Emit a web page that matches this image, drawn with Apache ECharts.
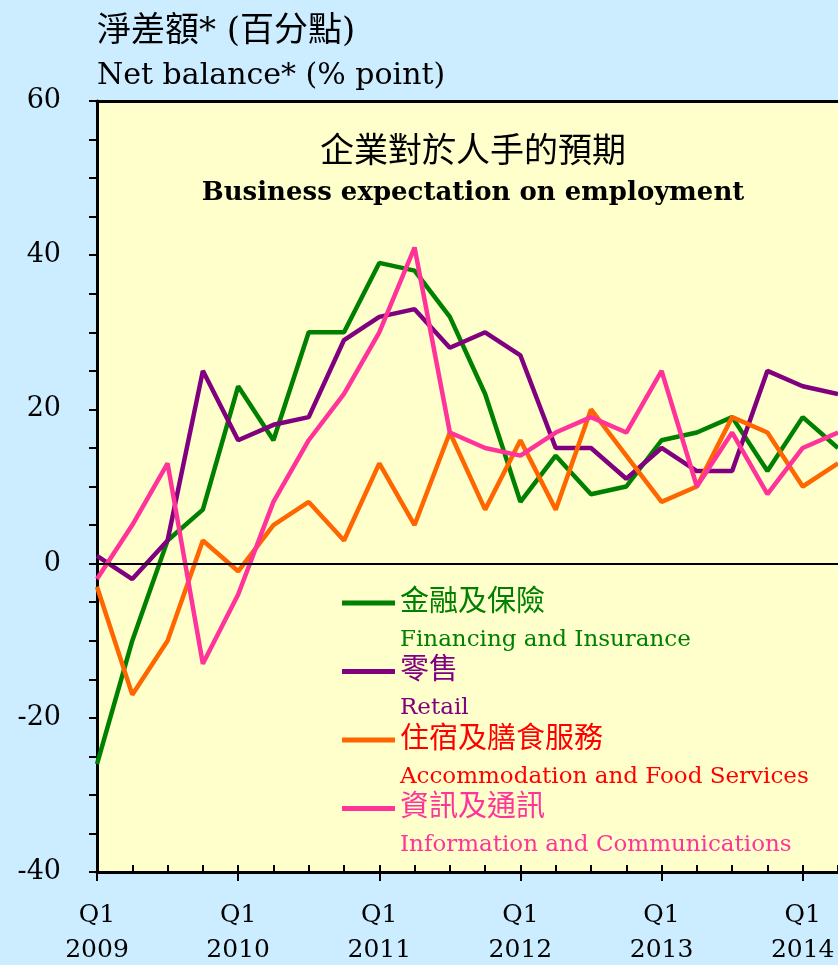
<!DOCTYPE html>
<html lang="zh-HK">
<head>
    <meta charset="UTF-8">
    <title>企業對於人手的預期</title>
    <script src="https://cdn.jsdelivr.net/npm/echarts@6.0.0/dist/echarts.min.js"></script>
    <style>
        html, body { margin: 0; padding: 0; background: #CCECFF; }
        #chart { width: 838px; height: 965px; }
    </style>
</head>
<body>
    <div id="chart"></div>
    <script>
        // 季度 (Q1 2009 - Q2 2014)
        var quarters = [
            'Q1\n2009', 'Q2\n2009', 'Q3\n2009', 'Q4\n2009',
            'Q1\n2010', 'Q2\n2010', 'Q3\n2010', 'Q4\n2010',
            'Q1\n2011', 'Q2\n2011', 'Q3\n2011', 'Q4\n2011',
            'Q1\n2012', 'Q2\n2012', 'Q3\n2012', 'Q4\n2012',
            'Q1\n2013', 'Q2\n2013', 'Q3\n2013', 'Q4\n2013',
            'Q1\n2014', 'Q2\n2014'
        ];

        // 淨差額 (百分點)
        var financeVals = [-26, -10, 3, 7, 23, 16, 30, 30, 39, 38, 32, 22, 8, 14, 9, 10, 16, 17, 19, 12, 19, 15];
        var retailVals  = [1, -2, 3, 25, 16, 18, 19, 29, 32, 33, 28, 30, 27, 15, 15, 11, 15, 12, 12, 25, 23, 22];
        var accomVals   = [-3, -17, -10, 3, -1, 5, 8, 3, 13, 5, 17, 7, 16, 7, 20, 14, 8, 10, 19, 17, 10, 13];
        var infoVals    = [-2, 5, 13, -13, -4, 8, 16, 22, 30, 41, 17, 15, 14, 17, 19, 17, 25, 10, 17, 9, 15, 17];

        var seriesNames = ['金融及保險', '零售', '住宿及膳食服務', '資訊及通訊'];
        var seriesNamesEn = ['Financing and Insurance', 'Retail', 'Accommodation and Food Services', 'Information and Communications'];
        var lineColors = ['#008000', '#800080', '#FF6600', '#FF3399'];
        var textColors = ['#008000', '#800080', '#FF0000', '#FF3399'];

        var yTicks = [-40, -20, 0, 20, 40, 60];

        var FONT = "'DejaVu Serif', 'Noto Sans CJK TC', serif";

        var chart = echarts.init(document.getElementById('chart'));

        // 圖例文字: 中文一行, 英文一行 (上面加一空行令圖示對齊中文)
        var legendRich = {};
        for (var i = 0; i < 4; i++) {
            legendRich['sp' + i] = { fontSize: 10, lineHeight: 37 };
            legendRich['cn' + i] = { color: textColors[i], fontFamily: FONT, fontSize: 29, lineHeight: 37 };
            legendRich['en' + i] = { color: textColors[i], fontFamily: FONT, fontSize: 23, lineHeight: 37 };
        }

        var dataSets = [financeVals, retailVals, accomVals, infoVals];
        var series = dataSets.map(function (vals, i) {
            var s = {
                name: seriesNames[i],
                type: 'line',
                data: vals,
                showSymbol: false,
                symbol: 'none',
                lineStyle: { width: 4.5, color: lineColors[i] },
                itemStyle: { color: lineColors[i] },
                silent: true
            };
            if (i === 0) {
                // 零線
                s.markLine = {
                    silent: true,
                    symbol: 'none',
                    label: { show: false },
                    lineStyle: { color: '#000', width: 2, type: 'solid' },
                    data: [{ yAxis: 0 }]
                };
            }
            return s;
        });

        var option = {
            backgroundColor: '#CCECFF',
            animation: false,
            title: [
                {
                    text: '企業對於人手的預期',
                    subtext: 'Business expectation on employment',
                    left: 468,
                    top: 131,
                    textAlign: 'center',
                    itemGap: 10,
                    textStyle: { fontFamily: FONT, fontSize: 34, fontWeight: 'normal', color: '#000' },
                    subtextStyle: { fontFamily: FONT, fontSize: 26, fontWeight: 'bold', color: '#000' }
                },
                {
                    text: '淨差額* (百分點)',
                    subtext: 'Net balance* (% point)',
                    left: 92,
                    top: 10,
                    itemGap: 12,
                    textStyle: { fontFamily: FONT, fontSize: 34, fontWeight: 'normal', color: '#000' },
                    subtextStyle: { fontFamily: FONT, fontSize: 30, color: '#000' }
                }
            ],
            legend: {
                orient: 'vertical',
                left: 342,
                top: 561,
                padding: 0,
                itemWidth: 53,
                itemHeight: 5,
                itemGap: -22,
                icon: 'rect',
                selectedMode: false,
                data: seriesNames,
                formatter: function (name) {
                    var k = seriesNames.indexOf(name);
                    return '{sp' + k + '| }\n{cn' + k + '|' + name + '}\n{en' + k + '|' + seriesNamesEn[k] + '}';
                },
                textStyle: { rich: legendRich }
            },
            grid: {
                left: 97,
                right: 0,
                top: 101,
                bottom: 93,
                outerBoundsMode: 'none',
                show: true,
                backgroundColor: '#FFFFCC',
                borderWidth: 0
            },
            xAxis: [
                {
                    type: 'category',
                    data: quarters,
                    boundaryGap: false,
                    position: 'bottom',
                    axisLine: { onZero: false, lineStyle: { color: '#000', width: 3 } },
                    axisTick: { interval: 0, inside: true, length: 7, lineStyle: { color: '#000', width: 2 } },
                    axisLabel: {
                        interval: 3,
                        margin: 26,
                        color: '#000',
                        fontFamily: FONT,
                        fontSize: 25,
                        lineHeight: 35
                    },
                    splitLine: { show: false }
                },
                {
                    // Q1 長刻度
                    type: 'category',
                    data: quarters,
                    boundaryGap: false,
                    position: 'bottom',
                    axisLine: { show: false, onZero: false },
                    axisTick: { interval: 3, inside: false, length: 9, lineStyle: { color: '#000', width: 2 } },
                    axisLabel: { show: false },
                    splitLine: { show: false }
                },
                {
                    // 頂邊線
                    type: 'category',
                    data: quarters,
                    boundaryGap: false,
                    position: 'top',
                    axisLine: { onZero: false, lineStyle: { color: '#000', width: 3 } },
                    axisTick: { show: false },
                    axisLabel: { show: false },
                    splitLine: { show: false }
                }
            ],
            yAxis: {
                type: 'value',
                min: yTicks[0],
                max: yTicks[yTicks.length - 1],
                interval: 20,
                axisLine: { show: true, onZero: false, lineStyle: { color: '#000', width: 3 } },
                axisTick: { show: true, inside: false, length: 8, lineStyle: { color: '#000', width: 2 } },
                minorTick: { show: true, splitNumber: 4, length: 8, lineStyle: { color: '#000', width: 2 } },
                axisLabel: {
                    margin: 36,
                    color: '#000',
                    fontFamily: FONT,
                    fontSize: 27
                },
                splitLine: { show: false }
            },
            series: series
        };

        chart.setOption(option);
    </script>
</body>
</html>
